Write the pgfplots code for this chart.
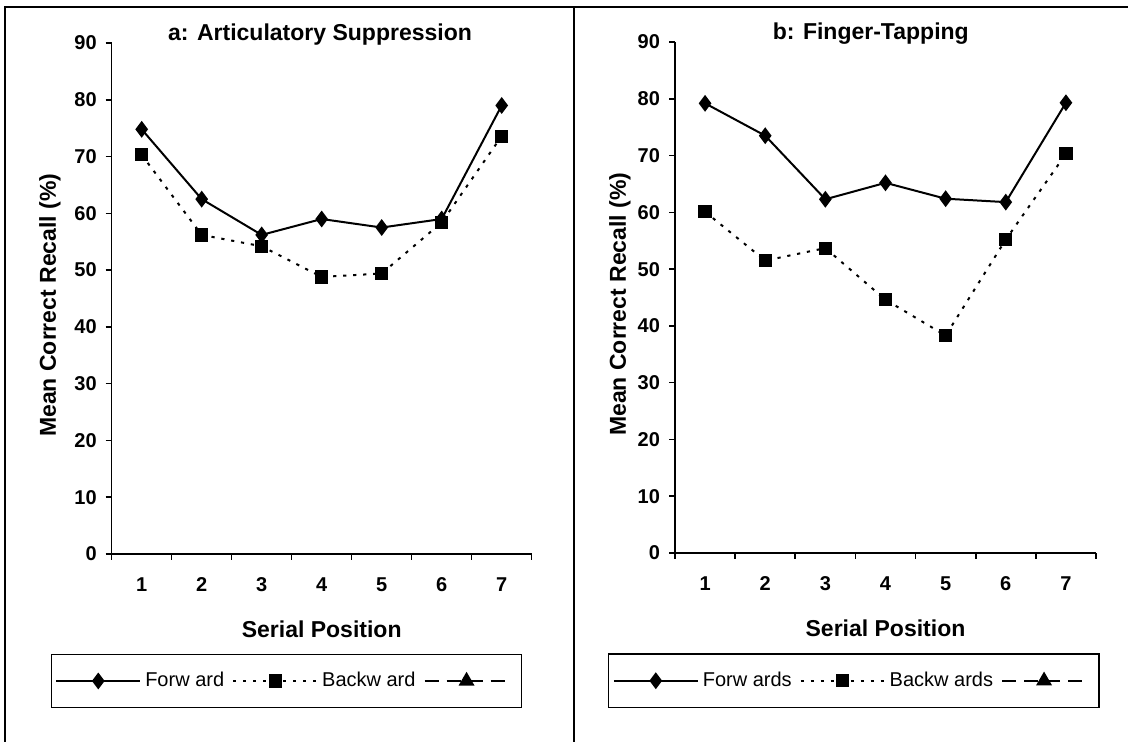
\documentclass[border=0pt]{standalone}
\usepackage{pgfplots}
\pgfplotsset{compat=1.18}
\usepackage{fontspec}
\setmainfont{Liberation Sans}

\pgfplotsset{
  panel/.style={
    scale only axis, width=210pt, height=255.5pt,
    xmin=0.5, xmax=7.5, ymin=0, ymax=90,
    axis lines*=left,
    xtick={1,...,7}, minor xtick={0.5,1.5,...,7.5},
    major x tick style={draw=none},
    ytick={0,10,...,90},
    tick align=outside, major tick length=3pt, minor tick length=3pt,
    every tick/.style={black, line width=0.8pt},
    axis line style={line width=0.8pt},
    tick label style={font=\fontsize{10}{12}\selectfont\bfseries},
    xticklabel style={yshift=-5pt, text height=7.2pt, text depth=0pt},
    yticklabel style={xshift=-1pt},
    /pgf/number format/assume math mode=true,
    label style={font=\fontsize{11.5}{13}\selectfont\bfseries},
    every axis title shift=0pt,
    title style={font=\fontsize{11.5}{13}\selectfont\bfseries, anchor=center},
    xlabel={Serial Position}, ylabel={Mean Correct Recall (\%)},
    xlabel style={at={(axis description cs:0.5,-0.147)}, anchor=center},
    legend style={draw=black, line width=0.6pt, font=\fontsize{10}{12}\selectfont,
      legend columns=3, anchor=center, inner xsep=2pt, inner ysep=7pt,
      /tikz/every even column/.append style={column sep=2pt}},
    legend cell align=left,
    legend image code/.code={\draw[mark repeat=2, mark phase=2]
      plot coordinates {(0pt,0pt) (21pt,0pt) (42pt,0pt)};},
  },
  fwd/.style={black, line width=1pt, mark=diamond*, mark size=3.4pt, mark options={solid}},
  bwd/.style={black, line width=1pt, dash pattern=on 1.6pt off 3.4pt, mark=square*, mark size=2.8pt, mark options={solid}},
  thr/.style={black, line width=1pt, dash pattern=on 7pt off 4pt, mark=triangle*, mark size=3.6pt, mark options={solid}},
}

\begin{document}
\begin{tikzpicture}
\useasboundingbox (0,0) rectangle (564pt,371pt);
\draw[line width=0.9pt] (2.5pt,0) -- (2.5pt,367.5pt) -- (564pt,367.5pt);
\draw[line width=0.9pt] (287pt,0) -- (287pt,367.5pt);

\begin{axis}[panel, at={(55.85pt,94pt)}, anchor=south west,
  title={a: Articulatory Suppression},
  title style={at={(axis description cs:0.496,1.016)}},
  ylabel style={at={(axis description cs:-0.147,0.487)}, anchor=center},
  legend style={at={(0.416,-0.2485)}}]
\addplot[fwd] coordinates {(1,74.8) (2,62.5) (3,56.2) (4,59.0) (5,57.5) (6,59.0) (7,79.0)};
\addlegendentry{Forw ard}
\addplot[bwd] coordinates {(1,70.3) (2,56.2) (3,54.2) (4,48.8) (5,49.4) (6,58.4) (7,73.6)};
\addlegendentry{Backw ard}
\addlegendimage{thr}
\addlegendentry{}
\end{axis}

\begin{axis}[panel, width=210.5pt, at={(337.5pt,94.5pt)}, anchor=south west,
  title={b: Finger-Tapping},
  title style={at={(axis description cs:0.465,1.016)}},
  ylabel style={at={(axis description cs:-0.131,0.487)}, anchor=center},
  legend style={at={(0.425,-0.25)}}]
\addplot[fwd] coordinates {(1,79.2) (2,73.5) (3,62.3) (4,65.2) (5,62.4) (6,61.8) (7,79.3)};
\addlegendentry{Forw ards}
\addplot[bwd] coordinates {(1,60.1) (2,51.5) (3,53.7) (4,44.6) (5,38.3) (6,55.2) (7,70.3)};
\addlegendentry{Backw ards}
\addlegendimage{thr}
\addlegendentry{}
\end{axis}
\end{tikzpicture}
\end{document}
